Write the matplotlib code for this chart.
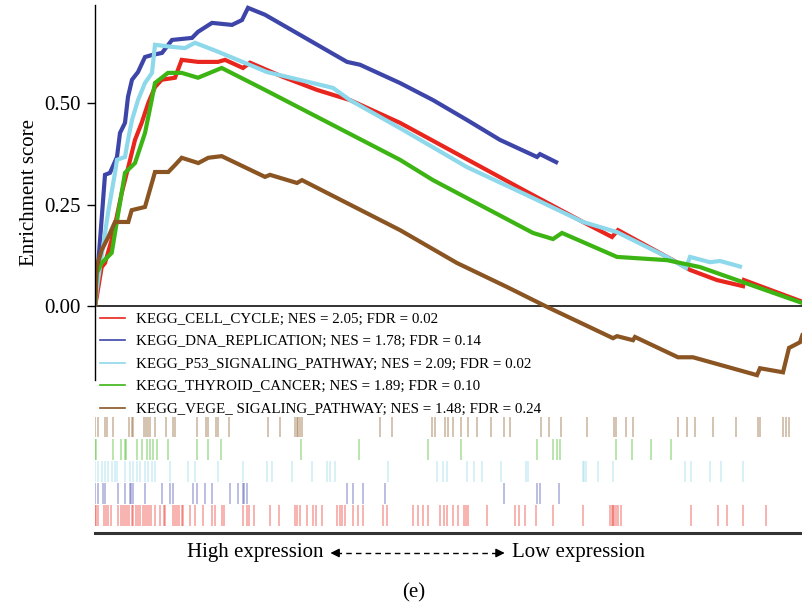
import matplotlib
matplotlib.use("Agg")
import matplotlib.pyplot as plt
from matplotlib.lines import Line2D
from matplotlib.patches import FancyArrowPatch

plt.rcParams['font.family'] = ['Liberation Serif', 'DejaVu Serif']

# ranked list length (arbitrary rank units)
n_genes = 7080

names = ["KEGG_CELL_CYCLE; NES = 2.05; FDR = 0.02",
         "KEGG_DNA_REPLICATION; NES = 1.78; FDR = 0.14",
         "KEGG_P53_SIGNALING_PATHWAY; NES = 2.09; FDR = 0.02",
         "KEGG_THYROID_CANCER; NES = 1.89; FDR = 0.10",
         "KEGG_VEGE_ SIGALING_PATHWAY; NES = 1.48; FDR = 0.24"]
colors = ["#e8261e", "#3d46a8", "#8dd8ea", "#3cb414", "#8a5522"]

# running enrichment score curves
cell_rank = [0, 17, 67, 100, 167, 217, 267, 333, 400, 467, 533, 600, 667, 800, 867, 1030, 1230,
             1300, 1480, 1550, 1880, 2220, 2550, 3050, 4320, 4880, 5170, 5230, 5780, 5950, 6220,
             6480, 6490, 7080]
cell_es = [0, .022, .096, .106, .163, .219, .278, .342, .409, .451, .500, .539, .557, .562, .606,
           .601, .601, .606, .586, .599, .564, .532, .507, .451, .281, .207, .170, .187, .113, .089,
           .064, .049, .064, .010]

dna_rank = [0, 30, 100, 150, 220, 250, 300, 330, 370, 430, 500, 570, 670, 770, 970, 1030, 1170,
            1370, 1470, 1530, 1700, 2520, 2650, 3050, 3380, 3720, 4050, 4420, 4450, 4630]
dna_es = [0, .096, .323, .328, .367, .426, .451, .515, .557, .576, .613, .618, .623, .655, .660,
          .675, .697, .692, .704, .734, .717, .601, .594, .549, .507, .458, .409, .367, .374, .352]

p53_rank = [0, 17, 50, 130, 200, 220, 300, 330, 370, 430, 500, 570, 600, 770, 900, 1000, 1230,
            1720, 2380, 2550, 3050, 3720, 4320, 4880, 5220, 5720, 5910, 5950, 6150, 6250, 6470]
p53_es = [0, .039, .096, .229, .328, .360, .367, .409, .458, .507, .549, .574, .643, .638, .635,
          .648, .626, .576, .537, .507, .438, .342, .273, .207, .182, .121, .094, .121, .108, .111,
          .096]

thy_rank = [0, 17, 67, 167, 233, 300, 400, 500, 567, 600, 730, 867, 1030, 1267, 1700, 3050, 3380,
            4380, 4580, 4670, 5220, 5720, 6050, 7080]
thy_es = [0, .081, .106, .131, .229, .328, .352, .426, .507, .549, .574, .574, .562, .586, .532,
          .360, .310, .180, .165, .180, .121, .113, .096, .007]

vegf_rank = [0, 17, 67, 133, 200, 333, 367, 500, 600, 733, 800, 867, 1033, 1133, 1267, 1700, 1750,
             2020, 2070, 3050, 3620, 4120, 4520, 5180, 5220, 5380, 5400, 5830, 5980, 6620, 6650,
             6880, 6940, 7050, 7080]
vegf_es = [0, .096, .138, .170, .207, .207, .236, .244, .330, .330, .347, .365, .352, .365, .369,
           .318, .323, .303, .310, .187, .106, .047, -.002, -.079, -.074, -.084, -.076, -.126,
           -.126, -.170, -.153, -.163, -.103, -.089, -.067]

# hit positions (barcode)
cell_hits = [0, 10, 33, 90, 110, 133, 157, 233, 257, 277, 300, 323, 343, 367, 383, 410, 433, 450,
             477, 500, 523, 543, 557, 600, 650, 690, 700, 783, 800, 823, 843, 867, 883, 950, 1000,
             1077, 1167, 1200, 1267, 1290, 1483, 1517, 1543, 1590, 1750, 1843, 2000, 2017, 2050,
             2117, 2177, 2210, 2267, 2417, 2450, 2467, 2500, 2583, 2633, 2683, 2883, 2917, 3183,
             3233, 3283, 3333, 3450, 3490, 3523, 3577, 3633, 3690, 3710, 3733, 3923, 4200, 4243,
             4300, 4410, 4577, 4877, 5150, 5167, 5177, 5190, 5210, 5233, 5257, 5957, 6233, 6323,
             6483, 6710]
dna_hits = [0, 33, 83, 100, 233, 300, 350, 357, 383, 500, 667, 750, 783, 983, 1023, 1100, 1167,
            1350, 1433, 1477, 1490, 1517, 2517, 2583, 2683, 2900, 4090, 4423, 4450, 4643]
p53_hits = [0, 33, 67, 100, 133, 167, 200, 217, 300, 350, 383, 417, 450, 500, 533, 567, 600, 750,
            933, 1000, 1233, 1483, 1717, 1767, 1967, 2167, 2317, 2350, 2400, 2933, 3417, 3483,
            3517, 3717, 3790, 3867, 4057, 4310, 4333, 4877, 4890, 4910, 5033, 5177, 5900, 5957,
            6150, 6260, 6483]
thy_hits = [0, 10, 183, 257, 300, 310, 417, 467, 523, 550, 577, 617, 733, 1023, 1133, 1257, 2057,
            2643, 3333, 3657, 4417, 4583, 4617, 4650, 5210, 5367, 5557, 5760]
vegf_hits = [0, 33, 100, 117, 183, 343, 367, 383, 490, 510, 533, 550, 600, 710, 783, 803, 1023,
             1110, 1133, 1210, 1233, 1343, 1733, 1850, 2000, 2017, 2033, 2050, 2067, 2850, 2967,
             3367, 3400, 3500, 3533, 3583, 3657, 3733, 3823, 3957, 4090, 4150, 4457, 4543, 4657,
             4923, 5190, 5210, 5310, 5383, 5830, 5917, 6000, 6183, 6410, 6633, 6650, 6883, 6910,
             6943]

curves = [(cell_rank, cell_es), (dna_rank, dna_es), (p53_rank, p53_es),
          (thy_rank, thy_es), (vegf_rank, vegf_es)]
hits = [cell_hits, dna_hits, p53_hits, thy_hits, vegf_hits]

fig = plt.figure(figsize=(8.03, 6.10), dpi=100)

# main enrichment plot
ax = fig.add_axes([0.1183, 0.377, 0.8817, 0.6148])
for (xr, es), c in zip(curves, colors):
    ax.plot(xr, es, color=c, lw=3, solid_joinstyle='miter', solid_capstyle='butt')
ax.axhline(0, color="#222222", lw=1.3, zorder=1)
ax.set_xlim(0, n_genes)
ax.set_ylim(-0.182, 0.741)
ax.set_yticks([0, 0.25, 0.5])
ax.set_yticklabels(["0.00", "0.25", "0.50"])
ax.set_xticks([])
for s in ["top", "right", "bottom"]:
    ax.spines[s].set_visible(False)
ax.spines["left"].set_linewidth(1.0)
ax.tick_params(axis='y', labelsize=15, length=6, width=1.0, pad=4)
ax.set_ylabel("Enrichment score", fontsize=15, labelpad=4)

handles = [Line2D([0], [0], color=c, lw=1.2) for c in colors]
ax.legend(handles, names, loc="upper left", bbox_to_anchor=(0.124, 0.488),
          bbox_transform=fig.transFigure, frameon=False, fontsize=10.8,
          handlelength=1.7, handletextpad=0.75, labelspacing=0.6,
          borderpad=0, borderaxespad=0)

# barcode rows: brown on top, red at bottom
rug = fig.add_axes([0.1183, 0.1262, 0.8817, 0.1918])
row_order = [0, 1, 2, 3, 4]  # red=0 ... brown=4
for row, h, c in zip(row_order, hits, colors):
    rug.vlines(h, row + 0.03, row + 0.97, color=c, lw=1.1, alpha=0.45)
rug.set_xlim(0, n_genes)
rug.set_ylim(-0.3, 5)
rug.set_xticks([])
rug.set_yticks([])
for s in ["top", "right", "left"]:
    rug.spines[s].set_visible(False)
rug.spines["bottom"].set_linewidth(2.2)
rug.spines["bottom"].set_color("#333333")

# direction annotation
y_ann = 1 - 553 / 610
fig.text(0.403, y_ann, "High expression", ha="right", va="center", fontsize=15)
fig.text(0.637, y_ann, "Low expression", ha="left", va="center", fontsize=15)
fig.add_artist(Line2D([0.418, 0.622], [y_ann, y_ann], color="black", lw=1.0,
                      linestyle=(0, (4, 3)), transform=fig.transFigure))
fig.add_artist(FancyArrowPatch((0.425, y_ann), (0.408, y_ann), transform=fig.transFigure,
                               arrowstyle="-|>", mutation_scale=13, color="black", lw=1.0))
fig.add_artist(FancyArrowPatch((0.615, y_ann), (0.632, y_ann), transform=fig.transFigure,
                               arrowstyle="-|>", mutation_scale=13, color="black", lw=1.0))
fig.text(0.515, 1 - 593 / 610, "(e)", ha="center", va="center", fontsize=15)

fig.savefig("out.png", dpi=100)
